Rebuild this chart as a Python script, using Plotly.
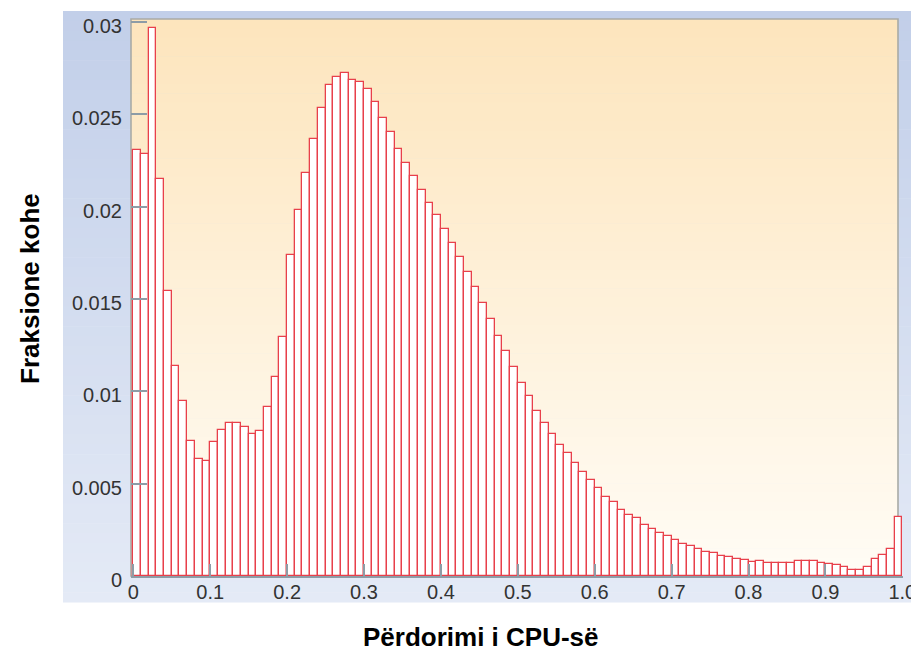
import plotly.graph_objects as go

# ---------------- data ----------------
bin_width = 0.01
bin_left = [round(i * 0.01, 2) for i in range(100)]
fraction = [
    0.02307, 0.02285, 0.02969, 0.02150, 0.01545, 0.01139, 0.00946, 0.00729, 0.00635, 0.00621,
    0.00724, 0.00791, 0.00830, 0.00830, 0.00805, 0.00771, 0.00785, 0.00915, 0.01078, 0.01296,
    0.01738, 0.01984, 0.02181, 0.02365, 0.02536, 0.02660, 0.02702, 0.02724, 0.02688, 0.02673,
    0.02639, 0.02567, 0.02478, 0.02403, 0.02312, 0.02238, 0.02166, 0.02092, 0.02020, 0.01953,
    0.01877, 0.01805, 0.01729, 0.01645, 0.01567, 0.01478, 0.01390, 0.01301, 0.01218, 0.01133,
    0.01047, 0.00973, 0.00895, 0.00827, 0.00769, 0.00708, 0.00664, 0.00614, 0.00562, 0.00520,
    0.00479, 0.00429, 0.00399, 0.00357, 0.00332, 0.00312, 0.00278, 0.00253, 0.00233, 0.00218,
    0.00197, 0.00175, 0.00161, 0.00145, 0.00128, 0.00123, 0.00108, 0.00101, 0.00094, 0.00087,
    0.00077, 0.00081, 0.00072, 0.00072, 0.00072, 0.00072, 0.00081, 0.00081, 0.00081, 0.00072,
    0.00063, 0.00058, 0.00047, 0.00034, 0.00034, 0.00050, 0.00092, 0.00114, 0.00146, 0.00318,
]
x_tick_vals = [0, 0.1, 0.2, 0.3, 0.4, 0.5, 0.6, 0.7, 0.8, 0.9, 1.0]
x_tick_text = ["0", "0.1", "0.2", "0.3", "0.4", "0.5", "0.6", "0.7", "0.8", "0.9", "1.0"]
y_tick_vals = [0, 0.005, 0.01, 0.015, 0.02, 0.025, 0.03]
y_tick_text = ["0", "0.005", "0.01", "0.015", "0.02", "0.025", "0.03"]
x_title = "Përdorimi i CPU-së"
y_title = "Fraksione kohe"

# ---------------- layout geometry (pixels) ----------------
W, H = 911, 651
PL, PR, PT, PB = 131, 903, 19, 576          # plot area
x_lo, x_hi = -0.003, 1.0009
y_lo, y_hi = 0.0, 0.03016


def px_to_paper_x(px):
    return (px - PL) / (PR - PL)


def px_to_paper_y(py):
    return (PB - py) / (PB - PT)


def lerp_color(c0, c1, t):
    return "rgb(%d,%d,%d)" % tuple(round(a + (b - a) * t) for a, b in zip(c0, c1))


shapes = []
# outer blue panel gradient
outer_top, outer_bot = (194, 207, 233), (228, 234, 246)
ox0, ox1 = px_to_paper_x(63), px_to_paper_x(911)
oy_top, oy_bot = 11, 602
N = 60
for i in range(N):
    ya = oy_top + (oy_bot - oy_top) * i / N
    yb = oy_top + (oy_bot - oy_top) * (i + 1) / N + 0.6
    shapes.append(dict(type="rect", xref="paper", yref="paper", layer="below",
                       x0=ox0, x1=ox1, y0=px_to_paper_y(yb), y1=px_to_paper_y(ya),
                       line=dict(width=0), fillcolor=lerp_color(outer_top, outer_bot, i / (N - 1))))
# inner plot-area gradient
in_top, in_bot = (253, 229, 189), (255, 252, 245)
ix0, ix1 = px_to_paper_x(131), px_to_paper_x(898)
for i in range(N):
    ya = PT + (PB - PT) * i / N
    yb = PT + (PB - PT) * (i + 1) / N + 0.6
    shapes.append(dict(type="rect", xref="paper", yref="paper", layer="below",
                       x0=ix0, x1=ix1, y0=px_to_paper_y(min(yb, PB)), y1=px_to_paper_y(ya),
                       line=dict(width=0), fillcolor=lerp_color(in_top, in_bot, i / (N - 1))))
# frame
shapes.append(dict(type="rect", xref="paper", yref="paper", layer="below",
                   x0=ix0, x1=ix1, y0=0, y1=1,
                   line=dict(width=1.6, color="#a9aba6"), fillcolor="rgba(0,0,0,0)"))

bin_center = [b + bin_width / 2 for b in bin_left]

fig = go.Figure(go.Bar(
    x=bin_center, y=fraction, width=bin_width,
    marker=dict(color="white", line=dict(color="#e8404b", width=1.3)),
    hoverinfo="x+y",
))

tick_font = dict(family="Liberation Sans, Arial, sans-serif", size=20, color="#333333")
title_font = dict(family="Liberation Sans, Arial, sans-serif", size=26, color="black")

fig.update_layout(
    width=W, height=H,
    margin=dict(l=PL, r=W - PR, t=PT, b=H - PB, autoexpand=False),
    paper_bgcolor="white", plot_bgcolor="rgba(0,0,0,0)",
    showlegend=False, bargap=0,
    shapes=shapes,
    xaxis=dict(range=[x_lo, x_hi], tickvals=x_tick_vals, ticktext=x_tick_text,
               ticks="inside", ticklen=12, tickwidth=1.5, tickcolor="#8d9ca6",
               showgrid=False, zeroline=False, showline=True, linecolor="#8d9ca6", linewidth=1.5,
               tickfont=tick_font, ticklabelstandoff=-3, ticklabeloverflow="allow",
               automargin=False, fixedrange=True),
    yaxis=dict(range=[y_lo, y_hi], tickvals=y_tick_vals, ticktext=y_tick_text,
               ticks="inside", ticklen=16, tickwidth=1.5, tickcolor="#8d9ca6",
               showgrid=False, zeroline=False, showline=False,
               tickfont=tick_font, ticklabelstandoff=8, ticklabelshift=4,
               ticklabeloverflow="allow", automargin=False, fixedrange=True),
    annotations=[
        dict(text="<b>" + x_title + "</b>", xref="paper", yref="paper",
             x=px_to_paper_x(481), y=px_to_paper_y(637), xanchor="center", yanchor="middle",
             showarrow=False, font=title_font),
        dict(text="<b>" + y_title + "</b>", xref="paper", yref="paper",
             x=px_to_paper_x(30), y=px_to_paper_y(289), xanchor="center", yanchor="middle",
             textangle=-90, showarrow=False, font=title_font),
    ],
)

fig.write_html("out.html")
